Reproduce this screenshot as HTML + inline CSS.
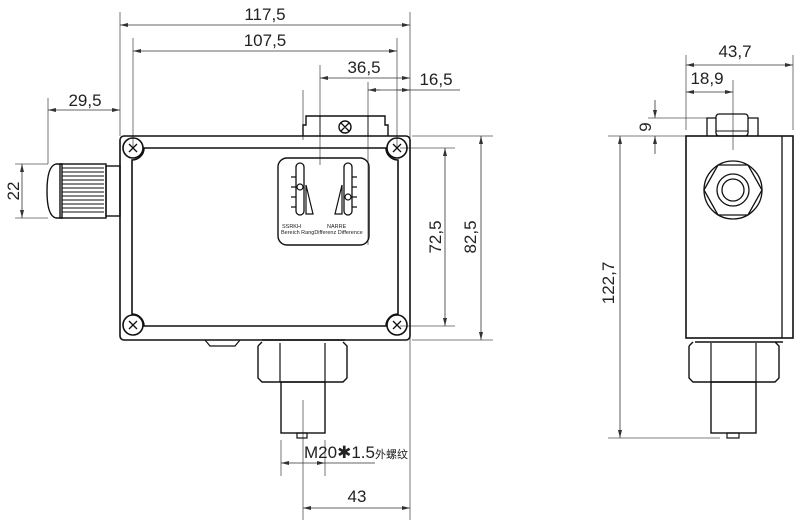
<!DOCTYPE html>
<html><head><meta charset="utf-8"><style>
html,body{margin:0;padding:0;background:#fff;width:800px;height:525px;overflow:hidden}
text{font-family:"Liberation Sans","DejaVu Sans",sans-serif;fill:#222}
</style></head><body>
<svg width="800" height="525" viewBox="0 0 800 525" xmlns="http://www.w3.org/2000/svg">
<defs>
<marker id="a" markerWidth="8" markerHeight="6" refX="8" refY="3" orient="auto-start-reverse" markerUnits="userSpaceOnUse"><path d="M0,1 L8,3 L0,5 Z" fill="#333"/></marker>
</defs>
<g stroke="#555" stroke-width="0.8" fill="none">
<!-- extension lines -->
<line x1="120" y1="12" x2="120" y2="136"/><line x1="410" y1="12" x2="410" y2="520"/>
<line x1="133" y1="38" x2="133" y2="148"/><line x1="397" y1="38" x2="397" y2="148"/>
<line x1="320" y1="65" x2="320" y2="165"/><line x1="368" y1="82" x2="368" y2="245"/>
<line x1="48" y1="98" x2="48" y2="164"/>
<line x1="15" y1="164" x2="48" y2="164"/><line x1="15" y1="218" x2="48" y2="218"/>
<line x1="412" y1="136" x2="493" y2="136"/><line x1="412" y1="340" x2="493" y2="340"/>
<line x1="400" y1="148" x2="455" y2="148"/><line x1="400" y1="326" x2="455" y2="326"/>
<line x1="303" y1="400" x2="303" y2="520"/>
<line x1="281" y1="440" x2="281" y2="476"/><line x1="325" y1="440" x2="325" y2="476"/>
<line x1="303" y1="90" x2="303" y2="140"/>
<!-- right view ext -->
<line x1="686" y1="55" x2="686" y2="130"/><line x1="793" y1="55" x2="793" y2="130"/>
<line x1="733" y1="80" x2="733" y2="150"/>
<line x1="648" y1="118" x2="716" y2="118"/><line x1="608" y1="136" x2="686" y2="136"/>
<line x1="608" y1="438" x2="720" y2="438"/>
</g>
<g stroke="#333" stroke-width="0.8" fill="none">
<line x1="120" y1="25" x2="410" y2="25" marker-start="url(#a)" marker-end="url(#a)"/>
<line x1="133" y1="51" x2="397" y2="51" marker-start="url(#a)" marker-end="url(#a)"/>
<line x1="320" y1="78" x2="410" y2="78" marker-start="url(#a)" marker-end="url(#a)"/>
<line x1="368" y1="90" x2="460" y2="90"/>
<line x1="380" y1="90" x2="368" y2="90" marker-end="url(#a)"/>
<line x1="398" y1="90" x2="410" y2="90" marker-end="url(#a)"/>
<line x1="48" y1="110" x2="120" y2="110" marker-start="url(#a)" marker-end="url(#a)"/>
<line x1="22" y1="164" x2="22" y2="218" marker-start="url(#a)" marker-end="url(#a)"/>
<line x1="445" y1="148" x2="445" y2="326" marker-start="url(#a)" marker-end="url(#a)"/>
<line x1="481" y1="136" x2="481" y2="340" marker-start="url(#a)" marker-end="url(#a)"/>
<line x1="281" y1="463" x2="325" y2="463" marker-start="url(#a)" marker-end="url(#a)"/>
<line x1="325" y1="463" x2="375" y2="463"/>
<line x1="303" y1="508" x2="410" y2="508" marker-start="url(#a)" marker-end="url(#a)"/>
<line x1="686" y1="65" x2="793" y2="65" marker-start="url(#a)" marker-end="url(#a)"/>
<line x1="686" y1="92" x2="733" y2="92" marker-start="url(#a)" marker-end="url(#a)"/>
<line x1="655" y1="100" x2="655" y2="118" marker-end="url(#a)"/>
<line x1="655" y1="154" x2="655" y2="136" marker-end="url(#a)"/>
<line x1="620" y1="136" x2="620" y2="438" marker-start="url(#a)" marker-end="url(#a)"/>
</g>
<g font-size="17">
<text x="265" y="20" text-anchor="middle">117,5</text>
<text x="265" y="46" text-anchor="middle">107,5</text>
<text x="364" y="73" text-anchor="middle">36,5</text>
<text x="436" y="85" text-anchor="middle">16,5</text>
<text x="85" y="106" text-anchor="middle">29,5</text>
<text transform="translate(19,191) rotate(-90)" text-anchor="middle">22</text>
<text transform="translate(441,237) rotate(-90)" text-anchor="middle">72,5</text>
<text transform="translate(476,237) rotate(-90)" text-anchor="middle">82,5</text>
<text x="357" y="502" text-anchor="middle">43</text>
<text x="735" y="57" text-anchor="middle">43,7</text>
<text x="707" y="84" text-anchor="middle">18,9</text>
<text transform="translate(651,127) rotate(-90)" text-anchor="middle">9</text>
<text transform="translate(614,283) rotate(-90)" text-anchor="middle">122,7</text>
<text x="304" y="458">M20✱1.5<tspan font-size="11" font-family="Noto Sans CJK SC,sans-serif">外螺纹</tspan></text>
</g>
<g stroke="#111" stroke-width="1.6" fill="none">
<!-- main box -->
<rect x="120" y="136" width="290" height="204" rx="4"/>
<path d="M144,148 H386 A12,12 0 0 0 398,160 V314 A12,12 0 0 0 386,326 H144 A12,12 0 0 0 132,314 V160 A12,12 0 0 0 144,148 Z"/>
<circle cx="133" cy="148" r="10"/><circle cx="397" cy="148" r="10"/>
<circle cx="133" cy="325" r="10"/><circle cx="397" cy="325" r="10"/>
<!-- top block -->
<path d="M303,136 V125 H306 V116 H385 V125 H388 V136" stroke-width="1.4"/>
<line x1="320" y1="116" x2="320" y2="136" stroke-width="1"/><line x1="368" y1="116" x2="368" y2="136" stroke-width="1"/>
<circle cx="345" cy="127" r="6" stroke-width="1.4"/>
<!-- window -->
<rect x="278" y="158" width="91" height="87" rx="9" stroke-width="1.4"/>
<rect x="296" y="163" width="8" height="52" rx="4" stroke-width="1.3"/>
<rect x="344" y="163" width="8" height="52" rx="4" stroke-width="1.3"/>
<circle cx="300" cy="187" r="3" stroke-width="1.2"/><circle cx="348" cy="197" r="3" stroke-width="1.2"/>
<path d="M291,177h5M291,187h5M291,197h5M291,207h5M352,177h5M352,187h5M352,197h5M352,207h5" stroke-width="1.2"/>
<path d="M306,185 L313,214 L306,214 Z" stroke-width="1.2"/>
<path d="M342,185 L335,214 L342,214 Z" stroke-width="1.2"/>
<!-- gland -->
<path d="M62,164 H56 Q47,166 47,191 Q47,216 56,218 H62 Z" stroke-width="1.4"/>
<rect x="60" y="164" width="46" height="54" stroke-width="1.4"/>
<rect x="106" y="166" width="14" height="50" stroke-width="1.4"/>
<!-- bottom -->
<path d="M205,340 L210,346 H235 L240,340" stroke-width="1.2"/>
<path d="M262,340 H345 M258,346 L262,342 M258,346 V378 L262,382 H343 L347,378 V346 L343,342" stroke-width="1.4"/>
<line x1="280" y1="343" x2="280" y2="382" stroke-width="1.2"/><line x1="325" y1="343" x2="325" y2="382" stroke-width="1.2"/>
<rect x="281" y="382" width="44" height="51" stroke-width="1.4"/>
<rect x="297" y="433" width="10" height="5" stroke-width="1.2"/>
<!-- right view -->
<rect x="686" y="136" width="107" height="202" stroke-width="1.6"/>
<line x1="782" y1="136" x2="782" y2="338" stroke-width="1.3"/>
<path d="M707,136 V118 H716 M748,118 H758 V136" stroke-width="1.3"/>
<rect x="716" y="114" width="32" height="22" rx="3" stroke-width="1.3"/>
<line x1="716" y1="131" x2="748" y2="131" stroke-width="1"/>
<circle cx="733" cy="190" r="29" stroke-width="1.3"/>
<path d="M704,190 L718,165 H748 L762,190 L748,215 H718 Z" stroke-width="1.3"/>
<circle cx="733" cy="190" r="16" stroke-width="1.3"/><circle cx="733" cy="190" r="11" stroke-width="1.3"/>
<path d="M695,342 H783 M689,346 L693,342 M689,346 V378 L693,382 H775 L779,378 V346 L775,342" stroke-width="1.4"/>
<line x1="711" y1="343" x2="711" y2="382" stroke-width="1.2"/><line x1="756" y1="343" x2="756" y2="382" stroke-width="1.2"/>
<rect x="711" y="382" width="45" height="51" stroke-width="1.4"/>
<rect x="727" y="433" width="12" height="5" stroke-width="1.2"/>
</g>
<!-- knurl lines -->
<g stroke="#111" stroke-width="0.9">
<path d="M62,168H104M62,172H104M62,176H104M62,180H104M62,184H104M62,196H104M62,200H104M62,204H104M62,208H104M62,212H104M62,188H104M62,192H104"/>
</g>
<!-- screw crosses -->
<g stroke="#111" stroke-width="1.3">
<path d="M129,144l8,8M137,144l-8,8M393,144l8,8M401,144l-8,8M129,321l8,8M137,321l-8,8M393,321l8,8M401,321l-8,8M341,123l8,8M349,123l-8,8"/>
</g>
<g font-size="5.5" font-family="Liberation Mono,monospace">
<text x="282" y="228">SSRKH</text><text x="327" y="228">NARRE</text>
<text x="281" y="234">Bereich RangDifferenz Difference</text>
</g>
</svg>
</body></html>
